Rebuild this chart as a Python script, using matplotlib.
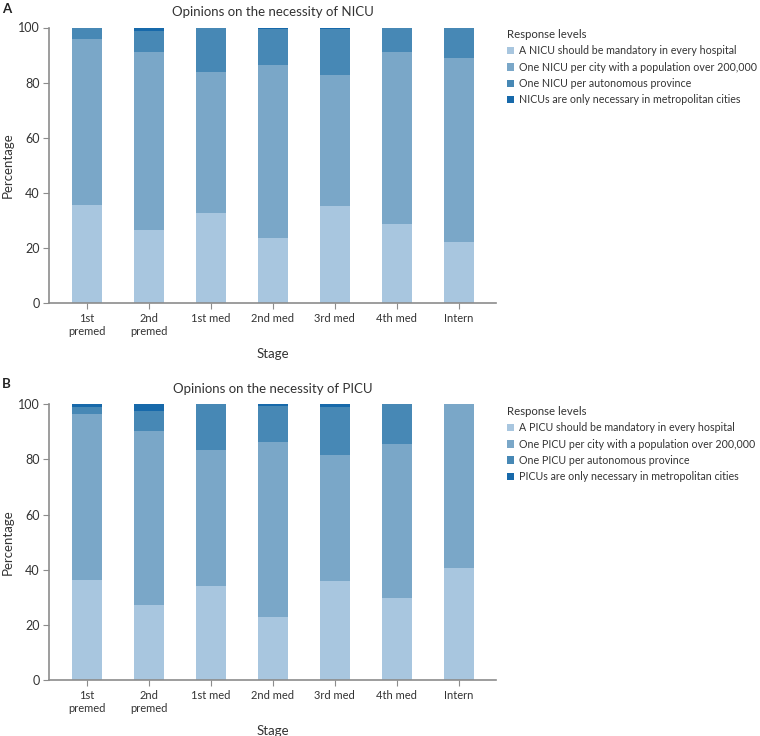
import matplotlib
matplotlib.use("Agg")
import matplotlib.pyplot as plt
from matplotlib.patches import Patch
import numpy as np

plt.rcParams['font.family'] = ['Lato', 'DejaVu Sans']

stages = ["1st\npremed", "2nd\npremed", "1st med", "2nd med", "3rd med", "4th med", "Intern"]

# NICU (panel A) segment values
nicu_mandatory = [35.7, 26.6, 32.8, 23.7, 35.2, 28.7, 22.3]
nicu_city = [60.3, 64.6, 51.1, 62.8, 47.4, 62.4, 66.8]
nicu_province = [4.0, 7.5, 16.1, 13.0, 16.7, 8.9, 10.9]
nicu_metro = [0.0, 1.3, 0.0, 0.5, 0.7, 0.0, 0.0]

# PICU (panel B)
picu_mandatory = [36.3, 27.4, 34.3, 22.8, 35.9, 29.8, 40.7]
picu_city = [60.3, 62.9, 49.1, 63.5, 45.6, 55.9, 59.3]
picu_province = [2.5, 7.4, 16.6, 13.2, 17.6, 14.3, 0.0]
picu_metro = [0.9, 2.3, 0.0, 0.5, 0.9, 0.0, 0.0]

colors = ["#a8c6df", "#7aa7c8", "#4788b5", "#1769aa"]

nicu_labels = ["A NICU should be mandatory in every hospital",
               "One NICU per city with a population over 200,000",
               "One NICU per autonomous province",
               "NICUs are only necessary in metropolitan cities"]
picu_labels = ["A PICU should be mandatory in every hospital",
               "One PICU per city with a population over 200,000",
               "One PICU per autonomous province",
               "PICUs are only necessary in metropolitan cities"]

W, H = 760, 736
fig = plt.figure(figsize=(W / 100, H / 100), dpi=100)

text_col = "#333333"
spine_col = "#8c8c8c"


def draw(ax, series, labels, title):
    x = np.arange(len(stages))
    bottom = np.zeros(len(stages))
    for vals, c in zip(series, colors):
        ax.bar(x, vals, width=0.48, bottom=bottom, color=c, edgecolor="none")
        bottom += np.array(vals)
    ax.set_xlim(-0.6, 6.6)
    ax.set_ylim(0, 100)
    ax.set_yticks([0, 20, 40, 60, 80, 100])
    ax.set_xticks(x)
    ax.set_xticklabels(stages, fontsize=8, color=text_col, linespacing=1.2)
    ax.tick_params(axis='y', labelsize=9, colors=text_col, length=4, width=0.8, color=spine_col, pad=3)
    ax.tick_params(axis='x', length=4, width=0.8, color=spine_col, pad=3)
    for s in ["top", "right"]:
        ax.spines[s].set_visible(False)
    for s in ["left", "bottom"]:
        ax.spines[s].set_color(spine_col)
        ax.spines[s].set_linewidth(1.2)
    ax.set_xlabel("Stage", fontsize=9.5, color=text_col, labelpad=8)
    ax.set_ylabel("Percentage", fontsize=9.5, color=text_col, labelpad=3)
    ax.set_title(title, fontsize=9.5, color=text_col, pad=8)
    handles = [Patch(facecolor=c, edgecolor="none") for c in colors]
    leg = ax.legend(handles, labels, title="Response levels", loc="upper left",
                    bbox_to_anchor=(1.015, 1.01), frameon=False, fontsize=7.7,
                    title_fontsize=8.2, handlelength=0.7, handleheight=0.7,
                    handletextpad=0.45, labelspacing=0.5, borderaxespad=0)
    leg._legend_box.align = "left"
    for t in leg.get_texts():
        t.set_color(text_col)
    leg.get_title().set_color(text_col)
    return ax


ax1 = fig.add_axes([49.5 / W, 1 - 303.3 / H, 446.5 / W, 275.8 / H])
draw(ax1, [nicu_mandatory, nicu_city, nicu_province, nicu_metro], nicu_labels,
     "Opinions on the necessity of NICU")
ax2 = fig.add_axes([49.5 / W, 1 - 680.3 / H, 446.5 / W, 276 / H])
draw(ax2, [picu_mandatory, picu_city, picu_province, picu_metro], picu_labels,
     "Opinions on the necessity of PICU")

fig.text(2 / W, 1 - 9 / H, "A", fontsize=9.5, fontweight="bold", color="#222222", va="center")
fig.text(2 / W, 1 - 384 / H, "B", fontsize=9.5, fontweight="bold", color="#222222", va="center")

fig.savefig("out.png", dpi=100)
